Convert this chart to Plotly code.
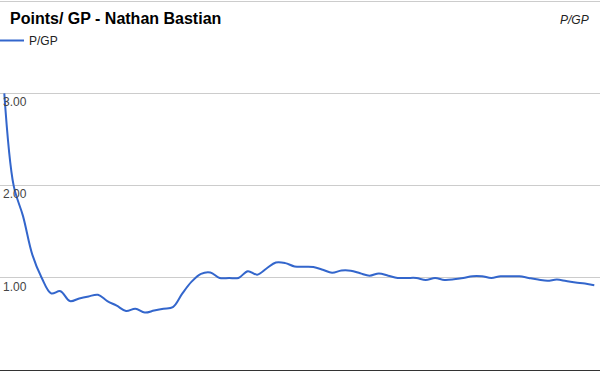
import plotly.graph_objects as go

# Game number (1..64) and cumulative points per game played
games = list(range(1, 65))
p_gp = [3.00, 2.00, 1.67, 1.25, 1.00, 0.833, 0.857, 0.75, 0.778, 0.80,
        0.818, 0.75, 0.70, 0.643, 0.667, 0.625, 0.647, 0.667, 0.684, 0.83,
        0.96, 1.045, 1.06, 1.00, 1.00, 1.00, 1.074, 1.036, 1.103, 1.167,
        1.161, 1.125, 1.121, 1.118, 1.09, 1.056, 1.081, 1.079, 1.051, 1.025,
        1.049, 1.024, 1.00, 1.00, 1.00, 0.978, 1.00, 0.979, 0.985, 1.00,
        1.02, 1.019, 1.00, 1.019, 1.018, 1.018, 1.00, 0.983, 0.97, 0.983,
        0.967, 0.952, 0.94, 0.922]

y_ticks = [0, 1, 2, 3, 4]
y_tick_labels = ["", "1.00", "2.00", "3.00", ""]

title_text = "Points/ GP - Nathan Bastian"
series_name = "P/GP"
axis_title = "P/GP"

FONT = "Arial, Liberation Sans, sans-serif"
BLUE = "#3366cc"

fig = go.Figure()
fig.add_trace(go.Scatter(
    x=games, y=p_gp, mode="lines", name=series_name,
    line=dict(color=BLUE, width=2, shape="spline", smoothing=1),
))

fig.update_layout(
    width=600, height=371,
    margin=dict(l=0, r=0, t=0, b=0, autoexpand=False),
    paper_bgcolor="white", plot_bgcolor="white",
    showlegend=True,
    legend=dict(x=-11 / 600, y=1 - 26 / 371, xanchor="left", yanchor="top",
                bgcolor="rgba(0,0,0,0)", borderwidth=0,
                font=dict(family=FONT, size=12, color="#222222")),
    title=dict(text="<b>" + title_text + "</b>", x=10 / 600, xanchor="left",
               y=1 - 18 / 371, yanchor="middle",
               font=dict(family=FONT, size=16, color="#000000")),
    xaxis=dict(range=[0.541, 64.61], showgrid=False, zeroline=False,
               showticklabels=False, showline=False, fixedrange=True),
    yaxis=dict(range=[-0.0076, 4.011], tickvals=y_ticks, ticktext=y_tick_labels,
               ticklabelposition="inside bottom", showgrid=True,
               gridcolor="#cccccc", gridwidth=1,
               zeroline=True, zerolinecolor="#333333", zerolinewidth=1,
               tickfont=dict(family=FONT, size=12, color="#444444"),
               showline=False, ticks=""),
    annotations=[dict(text="<i>" + axis_title + "</i>", xref="paper", yref="paper",
                      x=591 / 600, y=1 - 20 / 371, xanchor="right", yanchor="middle",
                      showarrow=False,
                      font=dict(family=FONT, size=12, color="#222222"))],
)

fig.write_html("out.html")
